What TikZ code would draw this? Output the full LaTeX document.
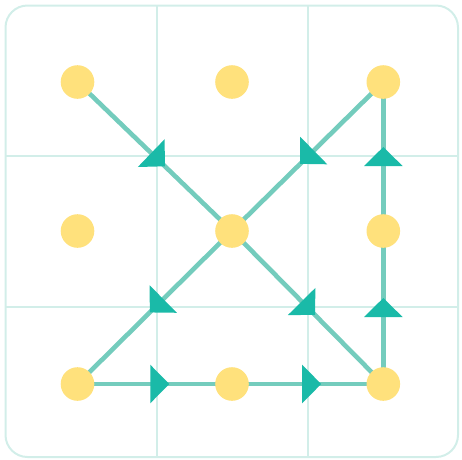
\documentclass[tikz,border=0pt]{standalone}
\usetikzlibrary{backgrounds,decorations.markings}
\definecolor{gridcol}{HTML}{D2EEE9}
\definecolor{linecol}{HTML}{74CCBD}
\definecolor{arrowcol}{HTML}{1ABAA8}
\definecolor{dotcol}{HTML}{FFE17C}
\tikzset{
  dot/.style={circle, fill=dotcol, draw=none, minimum size=33.6pt, inner sep=0pt},
  gridline/.style={draw=gridcol, line width=2pt},
  conn/.style={draw=linecol, line width=4.6pt},
  arrowat/.style={postaction={decorate, decoration={markings,
      mark=at position 0.5 with {\fill[arrowcol, xshift=#1pt] (-9.5pt,-19.3pt) -- (9.5pt,0pt) -- (-9.5pt,19.3pt) -- cycle;}}}}
}
\begin{document}
\begin{tikzpicture}[x=1pt,y=-1pt]
\useasboundingbox (0,0) rectangle (462,459);
% dots
\node[dot] (a1) at (77.5,82) {};
\node[dot] (a2) at (232,82) {};
\node[dot] (a3) at (383.3,82) {};
\node[dot] (b1) at (77.5,231) {};
\node[dot] (b2) at (232,231) {};
\node[dot] (b3) at (383.3,231) {};
\node[dot] (c1) at (77.5,384) {};
\node[dot] (c2) at (232,384) {};
\node[dot] (c3) at (383.3,384) {};
\begin{pgfonlayer}{background}
  \draw[gridline, rounded corners=22pt] (5.5,5.5) rectangle (458,457);
  \draw[gridline] (157,5.5) -- (157,457);
  \draw[gridline] (308,5.5) -- (308,457);
  \draw[gridline] (5.5,156) -- (458,156);
  \draw[gridline] (5.5,306.7) -- (458,306.7);
  \draw[conn, arrowat=4.6] (a1.center) -- (b2.center);
  \draw[conn, arrowat=1] (a3.center) -- (b2.center);
  \draw[conn, arrowat=-2.5] (b2.center) -- (c1.center);
  \draw[conn, arrowat=1] (b2.center) -- (c3.center);
  \draw[conn, arrowat=5] (c1.center) -- (c2.center);
  \draw[conn, arrowat=4] (c2.center) -- (c3.center);
  \draw[conn, arrowat=0] (c3.center) -- (b3.center);
  \draw[conn, arrowat=0] (b3.center) -- (a3.center);
\end{pgfonlayer}
\end{tikzpicture}
\end{document}
